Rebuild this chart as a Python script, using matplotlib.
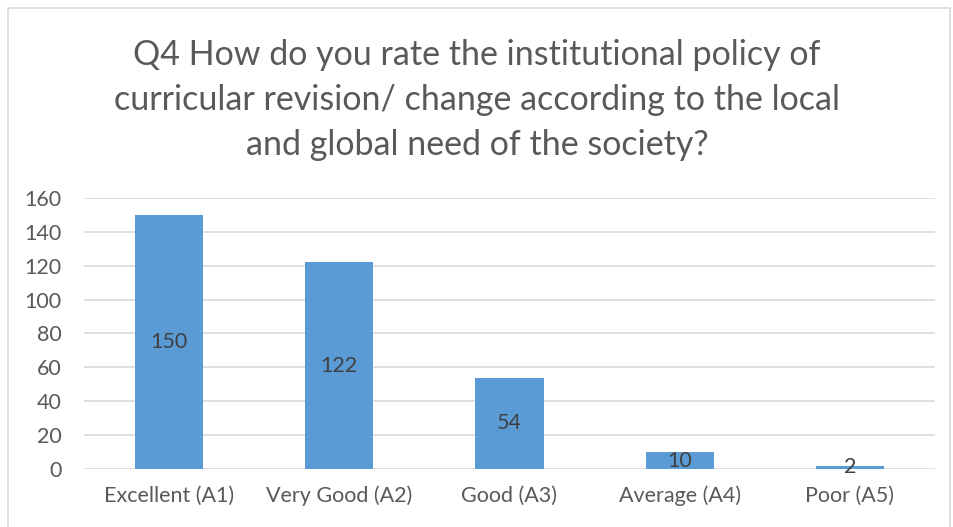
import matplotlib.pyplot as plt
from matplotlib.patches import Rectangle

categories = ['Excellent (A1)', 'Very Good (A2)', 'Good (A3)', 'Average (A4)', 'Poor (A5)']
counts = [150, 122, 54, 10, 2]
yticks = [0, 20, 40, 60, 80, 100, 120, 140, 160]

title = ('Q4 How do you rate the institutional policy of\n'
         'curricular revision/ change according to the local\n'
         'and global need of the society?')

text_color = '#595959'
bar_color = '#5b9bd5'
grid_color = '#d9d9d9'

plt.rcParams['font.family'] = ['Lato', 'DejaVu Sans']

fig = plt.figure(figsize=(9.54, 5.27), dpi=100)
# light frame around the chart, like the Excel chart border
fig.patches.append(Rectangle((8 / 954, -0.01), 942 / 954, 1 - 8 / 527 + 0.01,
                             transform=fig.transFigure, fill=False,
                             edgecolor='#d9d9d9', linewidth=1.2))

ax = fig.add_axes([84 / 954, 1 - 469 / 527, 851 / 954, 271 / 527])
x = range(len(categories))
bars = ax.bar(x, counts, width=0.4, color=bar_color, zorder=3)

for b, v in zip(bars, counts):
    ax.text(b.get_x() + b.get_width() / 2, v / 2, str(v), ha='center', va='center',
            fontsize=15.5, color='#404040', zorder=4)

ax.set_xlim(-0.5, len(categories) - 0.5)
ax.set_ylim(0, 160)
ax.set_yticks(yticks)
ax.set_xticks(list(x))
ax.set_xticklabels(categories)
ax.tick_params(axis='both', length=0, labelsize=15.5, colors=text_color)
ax.tick_params(axis='y', pad=16)
ax.tick_params(axis='x', pad=12)
ax.grid(axis='y', color=grid_color, linewidth=1.2, zorder=0)
for s in ax.spines.values():
    s.set_visible(False)

fig.text(0.5, 1 - 100 / 527, title, ha='center', va='center', fontsize=24.5,
         color=text_color, linespacing=1.5)

fig.savefig('out.png', dpi=100)
